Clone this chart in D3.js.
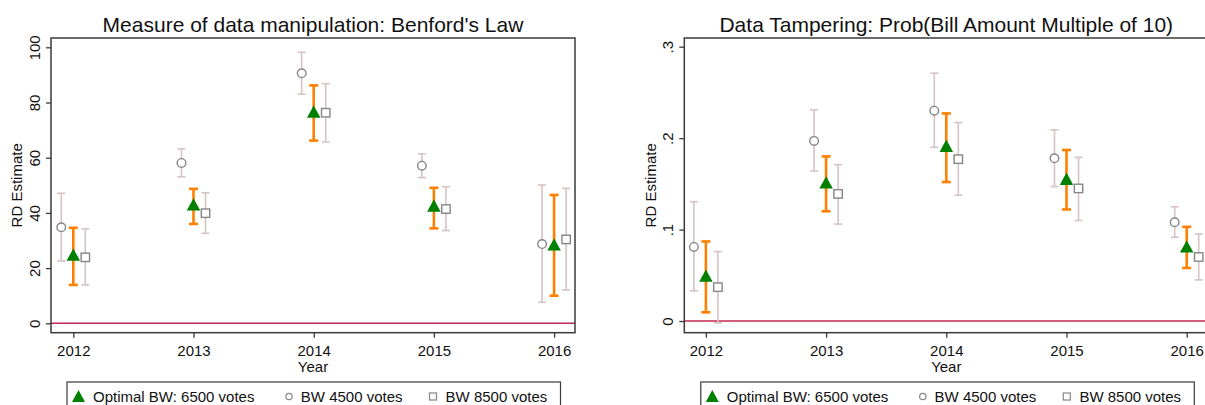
<!DOCTYPE html>
<html>
<head>
<meta charset="utf-8">
<script src="https://cdn.jsdelivr.net/npm/d3@7"></script>
<style>
  html, body { margin: 0; padding: 0; background: #fff; }
  svg { display: block; font-family: "Liberation Sans", Arial, sans-serif; }
</style>
</head>
<body>
<svg id="chart" width="1205" height="405"></svg>
<script>
// Years on the x axis
const years = [2012, 2013, 2014, 2015, 2016];

// Panel 1: Benford's Law RD estimates with 95% intervals
const benfordOpt    = [24.7, 42.9, 76.5, 42.5, 28.4];
const benfordOptLo  = [13.9, 36.0, 66.2, 34.4, 10.0];
const benfordOptHi  = [34.6, 48.7, 86.2, 49.1, 46.5];
const benford4500   = [34.8, 58.1, 90.6, 57.1, 28.7];
const benford4500Lo = [22.6, 53.1, 83.0, 52.8, 7.6];
const benford4500Hi = [47.1, 63.2, 98.2, 61.4, 50.1];
const benford8500   = [23.9, 39.9, 76.3, 41.4, 30.4];
const benford8500Lo = [13.9, 32.6, 65.7, 33.6, 12.1];
const benford8500Hi = [34.2, 47.3, 86.8, 49.5, 48.9];

// Panel 2: probability that the bill amount is a multiple of 10
const tamperOpt    = [0.049, 0.151, 0.191, 0.155, 0.081];
const tamperOptLo  = [0.0095, 0.120, 0.152, 0.122, 0.058];
const tamperOptHi  = [0.087, 0.180, 0.227, 0.187, 0.103];
const tamper4500   = [0.081, 0.197, 0.230, 0.178, 0.108];
const tamper4500Lo = [0.033, 0.164, 0.190, 0.147, 0.0916];
const tamper4500Hi = [0.1305, 0.231, 0.271, 0.209, 0.125];
const tamper8500   = [0.037, 0.139, 0.177, 0.145, 0.070];
const tamper8500Lo = [-0.002, 0.106, 0.1375, 0.110, 0.045];
const tamper8500Hi = [0.076, 0.171, 0.217, 0.179, 0.095];

// Axis tick values and labels
const benfordTicks = [0, 20, 40, 60, 80, 100];
const benfordTickLabels = ["0", "20", "40", "60", "80", "100"];
const tamperTicks = [0, 0.1, 0.2, 0.3];
const tamperTickLabels = ["0", ".1", ".2", ".3"];

// Legend entries
const legendLabels = ["Optimal BW: 6500 votes", "BW 4500 votes", "BW 8500 votes"];

const COL_MAIN = "#ff8000";
const COL_ALT = "#d6c3c3";
const COL_MARK = "#858585";
const COL_GREEN = "#008000";
const COL_ZERO = "#c0284f";
const COL_FRAME = "#3a3a3a";

const svg = d3.select("#chart");

function triPath(s) {
  return `M0,${-s * 0.5}L${s * 0.5},${s * 0.42}L${-s * 0.5},${s * 0.42}Z`;
}

function panel(opts) {
  const g = svg.append("g");
  const { left, right, top, bottom } = opts.frame;
  const x = d3.scaleLinear().domain([2012, 2016]).range([opts.x0, opts.x0 + 480.8]);
  const y = d3.scaleLinear().domain(opts.yDomain).range(opts.yRange);

  // title
  g.append("text")
    .attr("x", (left + right) / 2).attr("y", 32)
    .attr("text-anchor", "middle")
    .attr("font-size", 21).attr("fill", "#111")
    .text(opts.title);

  // zero reference line
  g.append("line")
    .attr("x1", left).attr("x2", right)
    .attr("y1", y(0)).attr("y2", y(0))
    .attr("stroke", COL_ZERO).attr("stroke-width", 1.6);

  // y axis
  const yAxis = d3.axisLeft(y)
    .tickValues(opts.ticks)
    .tickFormat((d, i) => opts.tickLabels[i])
    .tickSize(5).tickSizeOuter(0);
  const ya = g.append("g").attr("transform", `translate(${left},0)`).call(yAxis);
  ya.select(".domain").remove();
  ya.selectAll(".tick line").attr("stroke", COL_FRAME).attr("stroke-width", 1.3);
  ya.selectAll(".tick text")
    .attr("x", null).attr("dy", null)
    .attr("font-size", 15).attr("fill", "#111")
    .attr("font-family", "Liberation Sans, Arial, sans-serif")
    .attr("text-anchor", "middle")
    .attr("transform", `translate(${-11},0) rotate(-90)`);

  // x axis
  const xAxis = d3.axisBottom(x)
    .tickValues(years).tickFormat(d3.format("d"))
    .tickSize(5).tickSizeOuter(0);
  const xa = g.append("g").attr("transform", `translate(0,${bottom})`).call(xAxis);
  xa.select(".domain").remove();
  xa.selectAll(".tick line").attr("stroke", COL_FRAME).attr("stroke-width", 1.3);
  xa.selectAll(".tick text")
    .attr("y", 23.5).attr("dy", null)
    .attr("font-size", 15).attr("fill", "#111")
    .attr("font-family", "Liberation Sans, Arial, sans-serif");

  // axis titles
  g.append("text")
    .attr("x", (left + right) / 2).attr("y", 372)
    .attr("text-anchor", "middle").attr("font-size", 15).attr("fill", "#111")
    .text("Year");
  g.append("text")
    .attr("transform", `translate(${opts.yTitleX},${(top + bottom) / 2}) rotate(-90)`)
    .attr("text-anchor", "middle").attr("font-size", 15).attr("fill", "#111")
    .text("RD Estimate");

  // frame
  g.append("rect")
    .attr("x", left).attr("y", top)
    .attr("width", right - left).attr("height", bottom - top)
    .attr("fill", "none").attr("stroke", COL_FRAME).attr("stroke-width", 1.5);

  // interval bars with caps
  function bars(lo, hi, offset, color, width, cap) {
    const bg = g.append("g");
    years.forEach((yr, i) => {
      const cx = x(yr + offset);
      bg.append("line").attr("x1", cx).attr("x2", cx)
        .attr("y1", y(lo[i])).attr("y2", y(hi[i]))
        .attr("stroke", color).attr("stroke-width", width);
      [lo[i], hi[i]].forEach(v => {
        bg.append("line").attr("x1", cx - cap / 2).attr("x2", cx + cap / 2)
          .attr("y1", y(v)).attr("y2", y(v))
          .attr("stroke", color).attr("stroke-width", width);
      });
    });
  }
  bars(opts.lo45, opts.hi45, -0.1, COL_ALT, 1.6, 8);
  bars(opts.lo85, opts.hi85, 0.1, COL_ALT, 1.6, 8);
  bars(opts.loOpt, opts.hiOpt, 0, COL_MAIN, 2.6, 9);

  // markers
  g.selectAll(".c45").data(opts.v45).join("circle")
    .attr("cx", (d, i) => x(years[i] - 0.1)).attr("cy", d => y(d))
    .attr("r", 4.3).attr("fill", "#fff").attr("stroke", COL_MARK).attr("stroke-width", 1.4);
  g.selectAll(".s85").data(opts.v85).join("rect")
    .attr("x", (d, i) => x(years[i] + 0.1) - 4.2).attr("y", d => y(d) - 4.2)
    .attr("width", 8.4).attr("height", 8.4)
    .attr("fill", "#fff").attr("stroke", COL_MARK).attr("stroke-width", 1.4);
  g.selectAll(".tri").data(opts.vOpt).join("path")
    .attr("transform", (d, i) => `translate(${x(years[i])},${y(d)})`)
    .attr("d", triPath(13.5)).attr("fill", COL_GREEN);

  // legend
  const lx = opts.legendX, ly = 382;
  const lg = g.append("g");
  lg.append("rect").attr("x", lx).attr("y", ly).attr("width", 493.5).attr("height", 30)
    .attr("fill", "#fff").attr("stroke", COL_FRAME).attr("stroke-width", 1.2);
  const cy = 396.5;
  lg.append("path").attr("transform", `translate(${lx + 11.5},${cy})`)
    .attr("d", triPath(13)).attr("fill", COL_GREEN);
  lg.append("circle").attr("cx", lx + 222).attr("cy", cy).attr("r", 3.2)
    .attr("fill", "#fff").attr("stroke", COL_MARK).attr("stroke-width", 1.2);
  lg.append("rect").attr("x", lx + 366 - 3.5).attr("y", cy - 3.5).attr("width", 7).attr("height", 7)
    .attr("fill", "#fff").attr("stroke", COL_MARK).attr("stroke-width", 1.2);
  [26, 233.8, 378.6].forEach((dx, i) => {
    lg.append("text").attr("x", lx + dx).attr("y", cy + 5.5)
      .attr("font-size", 15).attr("fill", "#111").text(legendLabels[i]);
  });
}

panel({
  title: "Measure of data manipulation: Benford's Law",
  frame: { left: 51, right: 575, top: 38, bottom: 332.7 },
  x0: 73.3,
  yDomain: [0, 100], yRange: [323.3, 47.3],
  ticks: benfordTicks, tickLabels: benfordTickLabels,
  yTitleX: 22,
  vOpt: benfordOpt, loOpt: benfordOptLo, hiOpt: benfordOptHi,
  v45: benford4500, lo45: benford4500Lo, hi45: benford4500Hi,
  v85: benford8500, lo85: benford8500Lo, hi85: benford8500Hi,
  legendX: 67
});

panel({
  title: "Data Tampering: Prob(Bill Amount Multiple of 10)",
  frame: { left: 684.3, right: 1208.3, top: 38, bottom: 332.7 },
  x0: 705.9,
  yDomain: [0, 0.3], yRange: [321, 46.7],
  ticks: tamperTicks, tickLabels: tamperTickLabels,
  yTitleX: 656,
  vOpt: tamperOpt, loOpt: tamperOptLo, hiOpt: tamperOptHi,
  v45: tamper4500, lo45: tamper4500Lo, hi45: tamper4500Hi,
  v85: tamper8500, lo85: tamper8500Lo, hi85: tamper8500Hi,
  legendX: 700.8
});
</script>
</body>
</html>
